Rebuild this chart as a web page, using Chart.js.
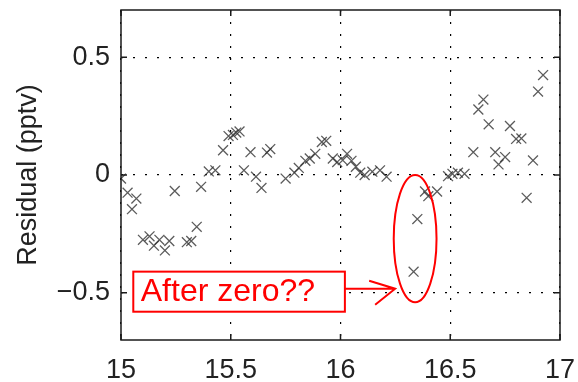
<!DOCTYPE html>
<html>
<head>
<meta charset="utf-8">
<script src="https://cdn.jsdelivr.net/npm/chart.js@4/dist/chart.umd.min.js"></script>
<style>
html,body{margin:0;padding:0;background:#fff;}
canvas{display:block;}
</style>
</head>
<body>
<canvas id="c" width="578" height="382"></canvas>
<script>
// ---- data ----
const xValues = [15.00,15.03,15.05,15.07,15.10,15.13,15.15,15.175,15.20,15.22,15.245,15.30,15.32,15.345,15.365,15.40,15.43,15.465,15.49,15.51,15.525,15.54,15.56,15.59,15.615,15.64,15.665,15.68,15.75,15.79,15.81,15.84,15.86,15.885,15.915,15.935,15.965,15.985,16.01,16.03,16.05,16.07,16.09,16.11,16.145,16.18,16.21,16.333,16.35,16.385,16.40,16.44,16.49,16.51,16.535,16.565,16.605,16.628,16.651,16.675,16.705,16.72,16.75,16.772,16.80,16.824,16.848,16.877,16.90,16.923];
const yValues = [-0.015,-0.075,-0.145,-0.10,-0.275,-0.26,-0.30,-0.275,-0.32,-0.28,-0.068,-0.285,-0.28,-0.22,-0.05,0.015,0.02,0.105,0.165,0.17,0.18,0.185,0.02,0.097,-0.007,-0.055,0.095,0.11,-0.015,0.01,0.03,0.06,0.07,0.09,0.14,0.145,0.07,0.055,0.063,0.09,0.06,0.035,0.01,0.0,0.014,0.02,-0.007,-0.41,-0.187,-0.07,-0.09,-0.07,-0.005,0.005,0.01,0.005,0.097,0.278,0.32,0.215,0.097,0.045,0.076,0.208,0.153,0.155,-0.097,0.062,0.354,0.424];
const xTickValues = [15, 15.5, 16, 16.5, 17];
const yTickValues = [-0.5, 0, 0.5];
const yAxisTitle = 'Residual (pptv)';
const noteText = 'After zero??';
// annotation geometry in data units
const noteBox = {x0: 15.056, x1: 16.02, y0: -0.41, y1: -0.58};
const noteTextPos = {x: 15.09, y: -0.535};
const arrowLine = {x0: 16.02, x1: 16.249, y: -0.4825};
const ringEllipse = {cx: 16.34, cy: -0.27, rx: 0.0975, ry: 0.27};

const points = xValues.map((x, i) => ({x: x, y: yValues[i]}));
const fontFam = '"Liberation Sans", Arial, sans-serif';

const framePlugin = {
  id: 'frame',
  afterDraw(chart) {
    const ctx = chart.ctx, a = chart.chartArea;
    const xs = chart.scales.x, ys = chart.scales.y;
    ctx.save();
    // axes box
    ctx.strokeStyle = '#1a1a1a';
    ctx.lineWidth = 1.5;
    ctx.strokeRect(a.left, a.top, a.right - a.left, a.bottom - a.top);
    // inward ticks
    const tl = 6;
    ctx.beginPath();
    xTickValues.forEach(v => {
      const px = xs.getPixelForValue(v);
      ctx.moveTo(px, a.bottom); ctx.lineTo(px, a.bottom - tl);
      ctx.moveTo(px, a.top); ctx.lineTo(px, a.top + tl);
    });
    yTickValues.forEach(v => {
      const py = ys.getPixelForValue(v);
      ctx.moveTo(a.left, py); ctx.lineTo(a.left + tl, py);
      ctx.moveTo(a.right, py); ctx.lineTo(a.right - tl, py);
    });
    ctx.stroke();

    // annotation box
    const bx0 = xs.getPixelForValue(noteBox.x0), bx1 = xs.getPixelForValue(noteBox.x1);
    const by0 = ys.getPixelForValue(noteBox.y0), by1 = ys.getPixelForValue(noteBox.y1);
    ctx.fillStyle = '#fff';
    ctx.fillRect(bx0, by0, bx1 - bx0, by1 - by0);
    ctx.strokeStyle = '#ff0000';
    ctx.lineWidth = 2;
    ctx.strokeRect(bx0, by0, bx1 - bx0, by1 - by0);
    ctx.fillStyle = '#ff0000';
    ctx.font = '32px ' + fontFam;
    ctx.textBaseline = 'alphabetic';
    ctx.textAlign = 'left';
    ctx.fillText(noteText, xs.getPixelForValue(noteTextPos.x), ys.getPixelForValue(noteTextPos.y));

    // arrow
    const ax0 = xs.getPixelForValue(arrowLine.x0), ax1 = xs.getPixelForValue(arrowLine.x1);
    const ay = ys.getPixelForValue(arrowLine.y);
    ctx.beginPath();
    ctx.moveTo(ax0, ay); ctx.lineTo(ax1, ay);
    ctx.moveTo(ax1 - 26, ay - 8); ctx.lineTo(ax1, ay); ctx.lineTo(ax1 - 20, ay + 16);
    ctx.stroke();

    // ellipse
    const ecx = xs.getPixelForValue(ringEllipse.cx), ecy = ys.getPixelForValue(ringEllipse.cy);
    const erx = Math.abs(xs.getPixelForValue(ringEllipse.cx + ringEllipse.rx) - ecx);
    const ery = Math.abs(ys.getPixelForValue(ringEllipse.cy + ringEllipse.ry) - ecy);
    ctx.beginPath();
    ctx.ellipse(ecx, ecy, erx, ery, 0, 0, Math.PI * 2);
    ctx.stroke();
    ctx.restore();
  }
};

new Chart(document.getElementById('c'), {
  type: 'scatter',
  data: {
    datasets: [{
      data: points,
      pointStyle: 'crossRot',
      pointRadius: 7,
      pointHoverRadius: 7,
      borderColor: 'rgba(50,50,50,0.8)',
      backgroundColor: 'rgba(50,50,50,0.8)',
      pointBorderWidth: 1.3
    }]
  },
  options: {
    responsive: false,
    animation: false,
    events: [],
    layout: {padding: {left: 0, top: 10, right: 18, bottom: 0}},
    plugins: {legend: {display: false}, tooltip: {enabled: false}},
    scales: {
      x: {
        type: 'linear', min: 15, max: 17,
        afterBuildTicks: s => { s.ticks = xTickValues.map(v => ({value: v})); },
        afterFit: s => { s.height = 42; s.paddingLeft = 0; s.paddingRight = 0; },
        ticks: {
          color: '#222', padding: 14,
          font: {family: fontFam, size: 27},
          callback: v => String(v)
        },
        grid: {color: '#000', lineWidth: 1.2, drawTicks: false},
        border: {display: false, dash: [2, 10]}
      },
      y: {
        type: 'linear', min: -0.7, max: 0.7,
        afterBuildTicks: s => { s.ticks = yTickValues.map(v => ({value: v})); },
        afterFit: s => { s.width = 121; s.paddingTop = 0; s.paddingBottom = 0; },
        ticks: {
          color: '#222', padding: 11,
          font: {family: fontFam, size: 27},
          callback: v => (v < 0 ? '\u2212' + String(Math.abs(v)) : String(v))
        },
        title: {
          display: true, text: yAxisTitle, color: '#222',
          font: {family: fontFam, size: 27}, padding: {top: 12, bottom: 0}
        },
        grid: {color: '#000', lineWidth: 1.2, drawTicks: false},
        border: {display: false, dash: [2, 10]}
      }
    }
  },
  plugins: [framePlugin]
});
</script>
</body>
</html>
